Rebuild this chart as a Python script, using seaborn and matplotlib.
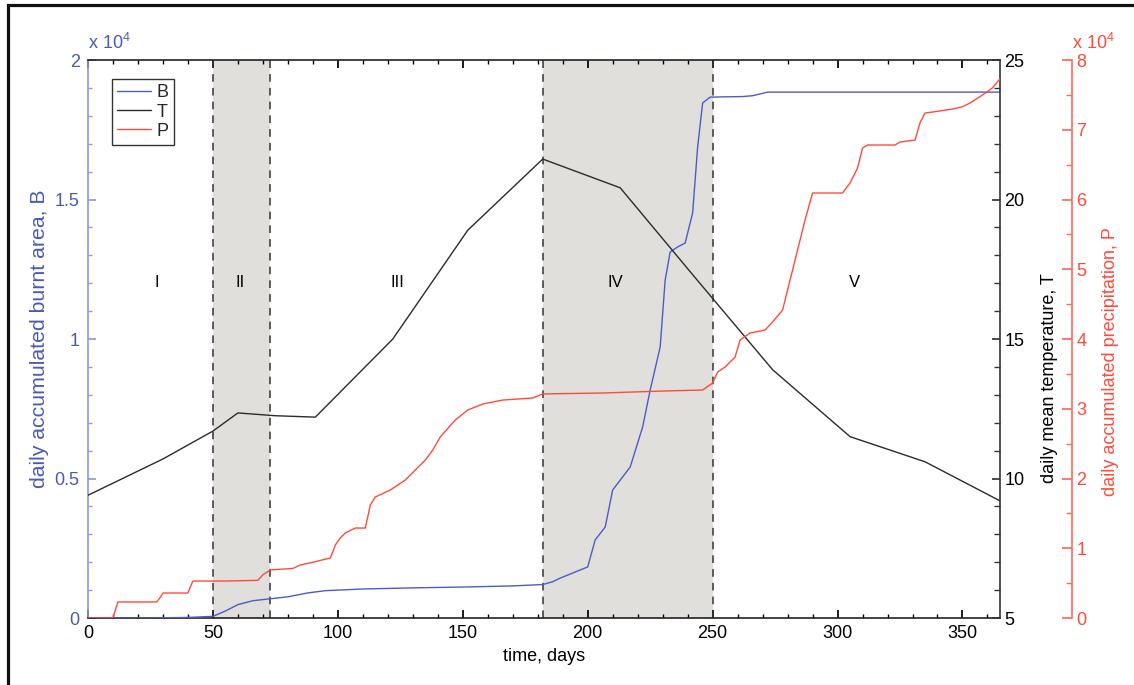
import matplotlib
matplotlib.use("Agg")
import matplotlib.pyplot as plt
from matplotlib.patches import Rectangle
from matplotlib.ticker import MultipleLocator, FuncFormatter
import seaborn as sns
import pandas as pd

# --- daily accumulated burnt area, B ---
days_B = [0, 25, 40, 50, 55, 60, 66, 73, 80, 88, 95, 110, 130, 150, 170, 182,
          186, 189, 195, 200, 203, 207, 210, 217, 222, 225, 229, 231, 233, 236,
          239, 242, 244, 246, 249, 255, 262, 266, 272, 300, 365]
burnt = [0, 0, 20, 60, 250, 480, 620, 690, 760, 900, 980, 1040, 1080, 1110, 1150,
         1200, 1300, 1430, 1650, 1830, 2800, 3260, 4590, 5410, 6850, 8170, 9710,
         12110, 13120, 13300, 13440, 14520, 16880, 18460, 18670, 18680, 18690,
         18720, 18850, 18850, 18850]

# --- daily mean temperature, T ---
days_T = [0, 30, 50, 60, 75, 91, 122, 152, 182, 213, 243, 274, 305, 335, 365]
temp = [9.4, 10.7, 11.7, 12.35, 12.25, 12.2, 15.0, 18.9, 21.45, 20.42, 17.2,
        13.9, 11.5, 10.6, 9.2]

# --- daily accumulated precipitation, P ---
days_P = [0, 10, 11, 12, 27.5, 29, 30, 40, 41, 42, 55, 68, 70, 73, 82, 85, 90,
          97, 99, 101, 103, 107, 111, 113, 115, 121, 127, 131, 135, 138, 141,
          147, 152, 158, 166, 178, 182, 206, 230, 246, 250, 252, 255, 259, 261,
          265, 271, 274, 278, 281, 285, 287, 290, 302, 305, 308, 310, 312, 323,
          325, 331, 333, 335, 338, 346, 350, 353, 358, 362, 365]
precip = [0, 0, 1200, 2300, 2300, 3000, 3580, 3580, 4500, 5300, 5300, 5400, 6200,
          6900, 7100, 7600, 8000, 8600, 10470, 11500, 12190, 12900, 12900, 16200,
          17350, 18350, 19780, 21220, 22650, 24090, 25950, 28390, 29820, 30680,
          31250, 31540, 32120, 32260, 32540, 32690, 33690, 35270, 35990, 37420,
          39860, 40860, 41290, 42440, 44150, 48460, 54190, 57060, 60930, 60930,
          62370, 64500, 67380, 67810, 67810, 68240, 68530, 71000, 72400, 72540,
          72970, 73300, 73830, 74980, 76000, 77300]

# --- seasonal periods ---
period_bounds = [(50, 73), (182, 250)]
period_names = ["I", "II", "III", "IV", "V"]
period_label_x = [27.7, 61, 123.8, 211, 306.7]

BLUE = "#4b5cc8"
BLUE_TXT = "#4a5ab4"
BLUE_SPINE = "#8f99da"
RED = "#ff4a3a"
RED_SPINE = "#ff6a5c"
DARK = "#2b2b2b"
SHADE = "#e0dfdb"

sns.set_theme(style="white")
plt.rcParams["font.family"] = ["Liberation Sans", "DejaVu Sans"]
plt.rcParams["mathtext.fontset"] = "custom"
plt.rcParams["mathtext.rm"] = "Liberation Sans"
plt.rcParams["mathtext.it"] = "Liberation Sans"

fig = plt.figure(figsize=(11.34, 6.85), dpi=100)
ax = fig.add_axes([0.0776, 0.0978, 0.8042, 0.8146])
axT = ax.twinx()
axP = ax.twinx()

df_B = pd.DataFrame({"day": days_B, "B": burnt})
df_T = pd.DataFrame({"day": days_T, "T": temp})
df_P = pd.DataFrame({"day": days_P, "P": precip})

# shaded periods with dashed borders
for lo, hi in period_bounds:
    ax.axvspan(lo, hi, facecolor=SHADE, edgecolor="none", zorder=0)
    for xv in (lo, hi):
        ax.axvline(xv, color="#333333", lw=1.1, ls=(0, (5, 4)), zorder=1)

sns.lineplot(data=df_B, x="day", y="B", ax=ax, color=BLUE, lw=1.0, zorder=3)
sns.lineplot(data=df_T, x="day", y="T", ax=axT, color=DARK, lw=1.0)
sns.lineplot(data=df_P, x="day", y="P", ax=axP, color=RED, lw=1.0)

for name, xv in zip(period_names, period_label_x):
    ax.text(xv, 12040, name, ha="center", va="center", fontsize=12, color="black")

# x axis
ax.set_xlim(0, 365)
ax.xaxis.set_major_locator(MultipleLocator(50))
ax.xaxis.set_minor_locator(MultipleLocator(10))
ax.set_xlabel("time, days", fontsize=13, color="black", labelpad=4)

# left axis: burnt area
ax.set_ylim(0, 20000)
ax.yaxis.set_major_locator(MultipleLocator(5000))
ax.yaxis.set_minor_locator(MultipleLocator(1000))
ax.yaxis.set_major_formatter(FuncFormatter(lambda v, _: f"{v / 1e4:g}"))
ax.set_ylabel("daily accumulated burnt area, B", fontsize=15.3, color=BLUE_TXT)
ax.yaxis.set_label_coords(-0.043, 0.5)
ax.tick_params(axis="x", which="both", direction="in", top=True, bottom=True,
               colors="black", labelsize=13, pad=5)
ax.tick_params(axis="x", which="major", length=6)
ax.tick_params(axis="x", which="minor", length=3)
ax.tick_params(axis="y", which="both", direction="in", left=True, right=False,
               color=BLUE_SPINE, labelcolor=BLUE_TXT, labelsize=13, pad=6)
ax.tick_params(axis="y", which="major", length=6)
ax.tick_params(axis="y", which="minor", length=3)
for s in ("top", "bottom"):
    ax.spines[s].set_color("#222222")
    ax.spines[s].set_linewidth(1.2)
ax.spines["left"].set_color(BLUE_SPINE)
ax.spines["left"].set_linewidth(1.2)
ax.spines["right"].set_visible(False)
ax.text(0.0, 1.012, r"x 10$^{4}$", transform=ax.transAxes, fontsize=13,
        color=BLUE_TXT, ha="left", va="bottom")

# inner right axis: temperature
axT.set_ylim(5, 25)
axT.yaxis.set_major_locator(MultipleLocator(5))
axT.yaxis.set_minor_locator(MultipleLocator(1))
axT.set_ylabel("daily mean temperature, T", fontsize=13, color="black")
axT.yaxis.set_label_coords(1.045, 0.43)
axT.tick_params(axis="y", which="both", direction="in", right=True, left=False,
                colors="#333333", labelcolor="black", labelsize=13, pad=3)
axT.tick_params(axis="y", which="major", length=6)
axT.tick_params(axis="y", which="minor", length=4)
for s in ("left", "top", "bottom"):
    axT.spines[s].set_visible(False)
axT.spines["right"].set_color("#333333")
axT.spines["right"].set_linewidth(1.2)

# outer right axis: precipitation
axP.spines["right"].set_position(("axes", 1.079))
axP.set_ylim(0, 80000)
axP.yaxis.set_major_locator(MultipleLocator(10000))
axP.yaxis.set_minor_locator(MultipleLocator(5000))
axP.yaxis.set_major_formatter(FuncFormatter(lambda v, _: f"{v / 1e4:g}"))
axP.set_ylabel("daily accumulated precipitation, P", fontsize=13, color=RED)
axP.yaxis.set_label_coords(1.112, 0.46)
axP.tick_params(axis="y", which="both", direction="in", right=True, left=False,
                color=RED_SPINE, labelcolor=RED, labelsize=13, pad=3)
axP.tick_params(axis="y", which="major", length=7)
axP.tick_params(axis="y", which="minor", length=4)
for s in ("left", "top", "bottom"):
    axP.spines[s].set_visible(False)
axP.spines["right"].set_color(RED_SPINE)
axP.spines["right"].set_linewidth(1.2)
axP.text(1.079, 1.012, r"x 10$^{4}$", transform=ax.transAxes, fontsize=13,
         color=RED, ha="left", va="bottom")

axT.set_xlabel("")
axP.set_xlabel("")
for a in (ax, axT, axP):
    lg = a.get_legend()
    if lg is not None:
        lg.remove()

# legend gathering the three series
handles = [plt.Line2D([], [], color=BLUE, lw=1.0),
           plt.Line2D([], [], color=DARK, lw=1.0),
           plt.Line2D([], [], color=RED, lw=1.0)]
leg = axP.legend(handles, ["B", "T", "P"], loc="upper left",
                 bbox_to_anchor=(0.026, 0.966), fontsize=13, frameon=True,
                 fancybox=False, handlelength=1.9, handletextpad=0.3,
                 borderpad=0.3, labelspacing=0.12, borderaxespad=0.0)
leg.get_frame().set_edgecolor("black")
leg.get_frame().set_linewidth(1.0)

# figure frame
fig.add_artist(Rectangle((0.0068, -0.2), 1.3, 1.1927, transform=fig.transFigure,
                         fill=False, lw=2.3, edgecolor="#111111"))

fig.savefig("out.png", dpi=100, facecolor="white")
